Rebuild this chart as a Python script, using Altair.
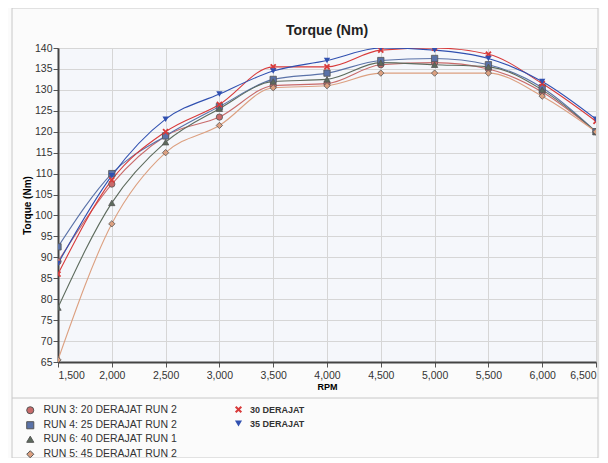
import altair as alt
import pandas as pd

rpm = [1500, 2000, 2500, 3000, 3500, 4000, 4500, 5000, 5500, 6000, 6500]

run3_20 = [89.0, 107.5, 119.0, 123.5, 131.0, 131.5, 136.0, 136.5, 135.0, 129.5, 120.0]
run4_25 = [92.5, 110.0, 119.0, 126.0, 132.5, 134.0, 137.0, 137.5, 136.0, 130.5, 120.0]
run6_40 = [78.0, 103.0, 117.5, 125.5, 132.0, 132.5, 136.5, 136.0, 135.5, 130.0, 120.0]
run5_45 = [65.5, 98.0, 115.0, 121.5, 130.5, 131.0, 134.0, 134.0, 134.0, 128.5, 120.0]
der30 = [86.0, 108.5, 120.0, 126.5, 135.5, 135.5, 139.5, 140.0, 138.5, 131.5, 122.5]
der35 = [88.5, 109.5, 123.0, 129.0, 134.5, 137.0, 140.0, 139.5, 137.5, 132.0, 123.0]

names_a = ["RUN 3: 20 DERAJAT RUN 2", "RUN 4: 25 DERAJAT RUN 2",
           "RUN 6: 40 DERAJAT RUN 1", "RUN 5: 45 DERAJAT RUN 2"]
names_b = ["30 DERAJAT", "35 DERAJAT"]
vals_a = [run3_20, run4_25, run6_40, run5_45]
vals_b = [der30, der35]

colors_a = ["#c86a6a", "#5a72a8", "#5d6b5d", "#dca080"]
shapes_a = ["circle", "square", "triangle-up", "diamond"]
colors_b = ["#d83a3a", "#3050b0"]
X_PATH = ("M-1,-0.6L-0.6,-1L0,-0.4L0.6,-1L1,-0.6L0.4,0L1,0.6L0.6,1"
          "L0,0.4L-0.6,1L-1,0.6L-0.4,0Z")
shapes_b = [X_PATH, "triangle-down"]

FONT = "Liberation Sans"


def long(names, vals):
    rows = []
    for n, v in zip(names, vals):
        for r, t in zip(rpm, v):
            rows.append({"series": n, "rpm": r, "torque": t})
    return pd.DataFrame(rows)


df_a = long(names_a, vals_a)
df_b = long(names_b, vals_b)

xs = alt.X("rpm:Q", scale=alt.Scale(domain=[1500, 6500], nice=False),
           axis=alt.Axis(title="RPM", format=",.0f", values=rpm,
                         titleFontSize=9, titleFontWeight="bold", titlePadding=2,
                         labelFontSize=10.5, labelColor="#333", domainColor="#444",
                         domainWidth=2, tickColor="#555", gridColor="#d6d6d6",
                         labelPadding=3))
ys = alt.Y("torque:Q", scale=alt.Scale(domain=[65, 140], nice=False),
           axis=alt.Axis(title="Torque (Nm)", values=list(range(65, 141, 5)),
                         titleFontSize=10, titleFontWeight="bold", titlePadding=2,
                         labelFontSize=10.5, labelColor="#333", domainColor="#444",
                         domainWidth=2, tickColor="#555", gridColor="#d6d6d6",
                         labelPadding=1))

col_a = alt.Color("series:N", scale=alt.Scale(domain=names_a, range=colors_a),
                  legend=alt.Legend(title=None, orient="none", legendX=-33, legendY=357,
                                    labelFontSize=10.5, labelColor="#333",
                                    symbolSize=50, rowPadding=3, labelOffset=8,
                                    symbolStrokeWidth=1))
shp_a = alt.Shape("series:N", scale=alt.Scale(domain=names_a, range=shapes_a), legend=None)
col_b = alt.Color("series:N", scale=alt.Scale(domain=names_b, range=colors_b),
                  legend=alt.Legend(title=None, orient="none", legendX=176, legendY=357,
                                    labelFontSize=9, labelFontWeight="bold",
                                    labelColor="#333", symbolSize=50, rowPadding=4,
                                    labelOffset=7))
shp_b = alt.Shape("series:N", scale=alt.Scale(domain=names_b, range=shapes_b), legend=None)

lines_a = alt.Chart(df_a).mark_line(interpolate="monotone", strokeWidth=1.1, clip=True).encode(
    x=xs, y=ys, color=alt.Color("series:N", scale=alt.Scale(domain=names_a, range=colors_a), legend=None),
    detail="series:N")
pts_a = alt.Chart(df_a).mark_point(filled=True, size=40, opacity=1, stroke="#555",
                                   strokeWidth=0.8, clip=True).encode(
    x=xs, y=ys, color=col_a, shape=shp_a)
lines_b = alt.Chart(df_b).mark_line(interpolate="monotone", strokeWidth=1.1, clip=True).encode(
    x=xs, y=ys, color=alt.Color("series:N", scale=alt.Scale(domain=names_b, range=colors_b), legend=None),
    detail="series:N")
pts_b = alt.Chart(df_b).mark_point(filled=True, size=40, opacity=1, clip=True).encode(
    x=xs, y=ys, color=col_b, shape=shp_b)

one = pd.DataFrame({"a": [0]})
frame = alt.Chart(one).mark_rect(
    fill=None, stroke="#c8c8c8", strokeWidth=1, clip=False).encode(
    x=alt.value(-46), x2=alt.value(540), y=alt.value(-40), y2=alt.value(410))
sep = alt.Chart(one).mark_rule(
    stroke="#c8c8c8", strokeWidth=1).encode(
    x=alt.value(-46), x2=alt.value(540), y=alt.value(350))
title = alt.Chart(one).mark_text(
    text="Torque (Nm)", fontSize=14, fontWeight="bold", color="#222", font=FONT,
    align="center", baseline="middle").encode(
    x=alt.value(269), y=alt.value(-17))

chart = alt.layer(frame, sep, title, lines_a, lines_b, pts_a, pts_b).resolve_scale(
    color="independent", shape="independent"
).properties(
    width=538, height=314,
    autosize=alt.AutoSizeParams(type="none"),
    padding={"left": 50, "top": 40, "right": 4, "bottom": 96},
    background="#fbfbfb",
).configure(font=FONT).configure_view(
    fill="#f5f7fb", stroke="#777", strokeWidth=1
)

chart.save("out.html", embed_options={"renderer": "svg", "actions": False})
